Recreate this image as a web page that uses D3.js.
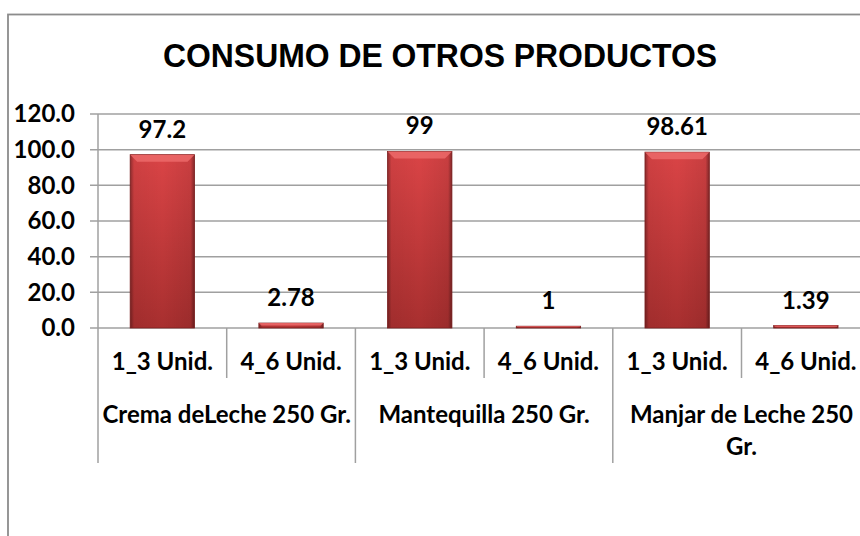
<!DOCTYPE html>
<html>
<head>
<meta charset="utf-8">
<script src="https://cdn.jsdelivr.net/npm/d3@7"></script>
<style>
html,body{margin:0;padding:0;background:#fff;}
svg{display:block;}
</style>
</head>
<body>
<svg id="chart" width="860" height="536"></svg>
<script>
const chartTitle = "CONSUMO DE OTROS PRODUCTOS";
const groups = ["Crema deLeche 250 Gr.", "Mantequilla 250 Gr.", "Manjar de Leche 250 Gr."];
const groupLines = [["Crema deLeche 250 Gr."], ["Mantequilla 250 Gr."], ["Manjar de Leche 250", "Gr."]];
const subCategories = ["1_3 Unid.", "4_6 Unid."];
const values = [97.2, 2.78, 99, 1, 98.61, 1.39];
const valueLabels = ["97.2", "2.78", "99", "1", "98.61", "1.39"];
const yTicks = [0, 20, 40, 60, 80, 100, 120];

const svg = d3.select("#chart");
const W = 860, H = 536;
const font = "Lato, 'Open Sans', sans-serif";
const fs = 24;

const rows = [];
groups.forEach((g, gi) => subCategories.forEach((s, si) => {
  const i = gi * subCategories.length + si;
  rows.push({key: g + "|" + s, group: g, gi, sub: s, value: values[i], label: valueLabels[i]});
}));

const plotLeft = 98, bandW = 128.7;
const x = d3.scaleBand().domain(rows.map(d => d.key)).range([plotLeft, plotLeft + bandW * rows.length]).paddingInner(0).paddingOuter(0);
const y = d3.scaleLinear().domain([0, 120]).range([328, 114]);

const defs = svg.append("defs");
const gv = defs.append("linearGradient").attr("id", "barV").attr("x1", 0).attr("y1", 0).attr("x2", 0).attr("y2", 1);
gv.append("stop").attr("offset", "0%").attr("stop-color", "#da4446");
gv.append("stop").attr("offset", "100%").attr("stop-color", "#a82f2f");
const gh = defs.append("linearGradient").attr("id", "barH").attr("x1", 0).attr("y1", 0).attr("x2", 1).attr("y2", 0);
gh.append("stop").attr("offset", "0%").attr("stop-color", "#000").attr("stop-opacity", 0.35);
gh.append("stop").attr("offset", "6%").attr("stop-color", "#000").attr("stop-opacity", 0.05);
gh.append("stop").attr("offset", "50%").attr("stop-color", "#000").attr("stop-opacity", 0);
gh.append("stop").attr("offset", "94%").attr("stop-color", "#000").attr("stop-opacity", 0.08);
gh.append("stop").attr("offset", "100%").attr("stop-color", "#000").attr("stop-opacity", 0.4);

svg.append("rect").attr("x", 8).attr("y", 14.5).attr("width", W + 20).attr("height", H + 20)
  .attr("fill", "none").attr("stroke", "#8c8c8c").attr("stroke-width", 1.8);

svg.append("text").attr("x", 440).attr("y", 67).attr("text-anchor", "middle")
  .attr("font-family", "'Liberation Sans Narrow', 'Arial Narrow', 'Liberation Sans', Arial, sans-serif")
  .attr("font-weight", "bold").attr("font-size", 33).attr("fill", "#000")
  .attr("textLength", 554).attr("lengthAdjust", "spacingAndGlyphs")
  .text(chartTitle);

const gridColor = "#a0a0a0";
svg.append("g").selectAll("line").data(yTicks).join("line")
  .attr("x1", plotLeft - 8).attr("x2", W + 20)
  .attr("y1", d => y(d)).attr("y2", d => y(d))
  .attr("stroke", gridColor).attr("stroke-width", 1.5);

svg.append("line").attr("x1", plotLeft).attr("x2", plotLeft).attr("y1", y(120)).attr("y2", 463)
  .attr("stroke", gridColor).attr("stroke-width", 1.5);

svg.append("g").selectAll("text").data(yTicks).join("text")
  .attr("x", 75).attr("y", d => y(d)).attr("dy", "0.35em").attr("text-anchor", "end")
  .attr("font-family", font).attr("font-weight", "bold").attr("font-size", fs).attr("fill", "#000")
  .text(d => d3.format(".1f")(d));

const subBounds = rows.map((d, i) => ({x: x(d.key), isGroup: i % subCategories.length === 0})).slice(1);
subBounds.push({x: x(rows[rows.length - 1].key) + x.bandwidth(), isGroup: true});
svg.append("g").selectAll("line").data(subBounds).join("line")
  .attr("x1", d => d.x).attr("x2", d => d.x)
  .attr("y1", y(0)).attr("y2", d => d.isGroup ? 463 : 378)
  .attr("stroke", gridColor).attr("stroke-width", 1.5);

const barW = x.bandwidth() * 0.5;
const bars = svg.append("g").selectAll("g").data(rows).join("g")
  .attr("transform", d => `translate(${x(d.key) + (x.bandwidth() - barW) / 2},0)`);
bars.append("rect").attr("x", 0).attr("y", d => y(d.value)).attr("width", barW)
  .attr("height", d => y(0) - y(d.value)).attr("fill", "url(#barV)");
bars.append("rect").attr("x", 0).attr("y", d => y(d.value)).attr("width", barW)
  .attr("height", d => y(0) - y(d.value)).attr("fill", "url(#barH)")
  .attr("stroke", "#7a1f1f").attr("stroke-width", 0.8);
bars.append("path").attr("d", d => {
  const t = y(d.value), h = y(0) - t, b = Math.min(7, h / 2);
  return `M0,${t} L${barW},${t} L${barW - b},${t + b} L${b},${t + b} Z`;
}).attr("fill", "#ec6a6a").attr("opacity", 0.85);

svg.append("g").selectAll("text").data(rows).join("text")
  .attr("x", d => x(d.key) + x.bandwidth() / 2).attr("y", d => y(d.value) - 17)
  .attr("text-anchor", "middle").attr("font-family", font).attr("font-weight", "bold")
  .attr("font-size", fs).attr("fill", "#000").text(d => d.label);

svg.append("g").selectAll("text").data(rows).join("text")
  .attr("x", d => x(d.key) + x.bandwidth() / 2).attr("y", 362).attr("dy", "0.35em")
  .attr("text-anchor", "middle").attr("font-family", font).attr("font-weight", "bold")
  .attr("font-size", fs).attr("fill", "#000").text(d => d.sub);

const gl = svg.append("g").selectAll("text").data(groups).join("text")
  .attr("x", (d, i) => x(rows[i * 2].key) + x.bandwidth())
  .attr("y", 415).attr("text-anchor", "middle").attr("font-family", font).attr("font-weight", "bold")
  .attr("font-size", fs).attr("fill", "#000");
gl.each(function(d, i) {
  const el = d3.select(this);
  groupLines[i].forEach((line, li) => {
    el.append("tspan").attr("x", x(rows[i * 2].key) + x.bandwidth())
      .attr("dy", li === 0 ? "0.35em" : "1.33em").text(line);
  });
});
</script>
</body>
</html>
